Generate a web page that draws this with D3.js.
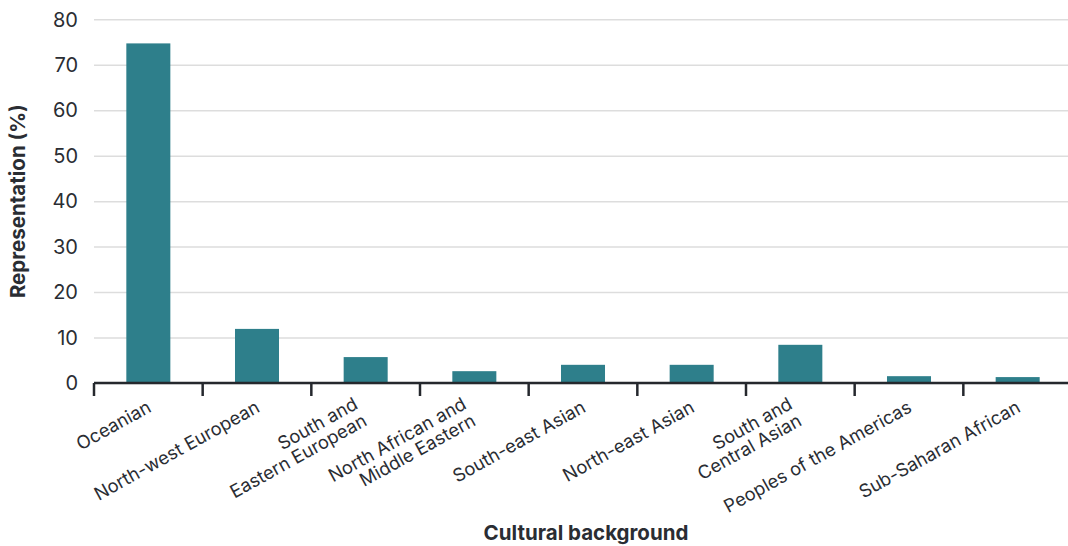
<!DOCTYPE html>
<html>
<head>
<meta charset="utf-8">
<script src="https://cdn.jsdelivr.net/npm/d3@7"></script>
<style>
  html, body { margin: 0; padding: 0; background: #ffffff; }
  svg { display: block; font-family: "Inter", "Roboto", sans-serif; }
</style>
</head>
<body>
<svg id="chart" width="1068" height="546"></svg>
<script>
const categories = [
  ["Oceanian"],
  ["North-west European"],
  ["South and", "Eastern European"],
  ["North African and", "Middle Eastern"],
  ["South-east Asian"],
  ["North-east Asian"],
  ["South and", "Central Asian"],
  ["Peoples of the Americas"],
  ["Sub-Saharan African"]
];
const values = [74.7, 11.9, 5.7, 2.6, 4.0, 4.0, 8.4, 1.5, 1.3];
const yTicks = [0, 10, 20, 30, 40, 50, 60, 70, 80];
const xTitle = "Cultural background";
const yTitle = "Representation (%)";

(function () {
const svg = d3.select("#chart");
const textColor = "#2a2d33";
const barColor = "#2e7f8b";

const mLeft = 94, mRight = 1072, mTop = 19.3, mBottom = 383;
const keys = categories.map((c, i) => i);

const x = d3.scaleBand().domain(keys).range([mLeft, mRight]).paddingInner(0.595).paddingOuter(0.2975);
const y = d3.scaleLinear().domain([0, 80]).range([mBottom, mTop]);

// gridlines
svg.append("g")
  .selectAll("line")
  .data(yTicks)
  .join("line")
  .attr("x1", mLeft)
  .attr("x2", 1068)
  .attr("y1", d => y(d) + 0.5)
  .attr("y2", d => y(d) + 0.5)
  .attr("stroke", "#dddddd")
  .attr("stroke-width", 1.5);

// y tick labels
svg.append("g")
  .selectAll("text")
  .data(yTicks)
  .join("text")
  .attr("x", 78)
  .attr("y", d => y(d))
  .attr("dy", "0.36em")
  .attr("text-anchor", "end")
  .attr("font-size", 20)
  .attr("fill", textColor)
  .text(d => d);

// bars
svg.append("g")
  .selectAll("rect")
  .data(values)
  .join("rect")
  .attr("x", (d, i) => x(i))
  .attr("width", x.bandwidth())
  .attr("y", d => y(d))
  .attr("height", d => y(0) - y(d))
  .attr("fill", barColor);

// x axis line
svg.append("line")
  .attr("x1", mLeft).attr("x2", 1068)
  .attr("y1", mBottom).attr("y2", mBottom)
  .attr("stroke", "#25282d").attr("stroke-width", 2.5);

// ticks at band boundaries
const step = x.step();
svg.append("g")
  .selectAll("line")
  .data(keys)
  .join("line")
  .attr("x1", i => mLeft + i * step)
  .attr("x2", i => mLeft + i * step)
  .attr("y1", mBottom)
  .attr("y2", mBottom + 13)
  .attr("stroke", "#25282d")
  .attr("stroke-width", 2.5);

// category labels
const angle = -29;
const lh = 19;
const lab = svg.append("g")
  .selectAll("text")
  .data(keys)
  .join("text")
  .attr("transform", i => {
    const n = categories[i].length;
    const dx = n > 1 ? -5 : 4;
    return `translate(${x(i) + x.bandwidth() / 2 + dx},${mBottom + 28}) rotate(${angle})`;
  })
  .attr("text-anchor", "end")
  .attr("font-size", 18.3)
  .attr("fill", textColor);
lab.each(function (i) {
  const lines = categories[i];
  const n = lines.length;
  d3.select(this).selectAll("tspan")
    .data(lines)
    .join("tspan")
    .attr("x", 0)
    .attr("y", (d, j) => (j - (n - 1) / 2) * lh + (n > 1 ? 6 : 0))
    .text(d => d);
});

// axis titles
svg.append("text")
  .attr("x", (mLeft + mRight) / 2 + 3)
  .attr("y", 540)
  .attr("text-anchor", "middle")
  .attr("font-size", 20.5)
  .attr("font-weight", "bold")
  .attr("fill", textColor)
  .text(xTitle);

svg.append("text")
  .attr("transform", `translate(25,${(mTop + mBottom) / 2}) rotate(-90)`)
  .attr("text-anchor", "middle")
  .attr("font-size", 20.5)
  .attr("font-weight", "bold")
  .attr("fill", textColor)
  .text(yTitle);
})();
</script>
</body>
</html>
